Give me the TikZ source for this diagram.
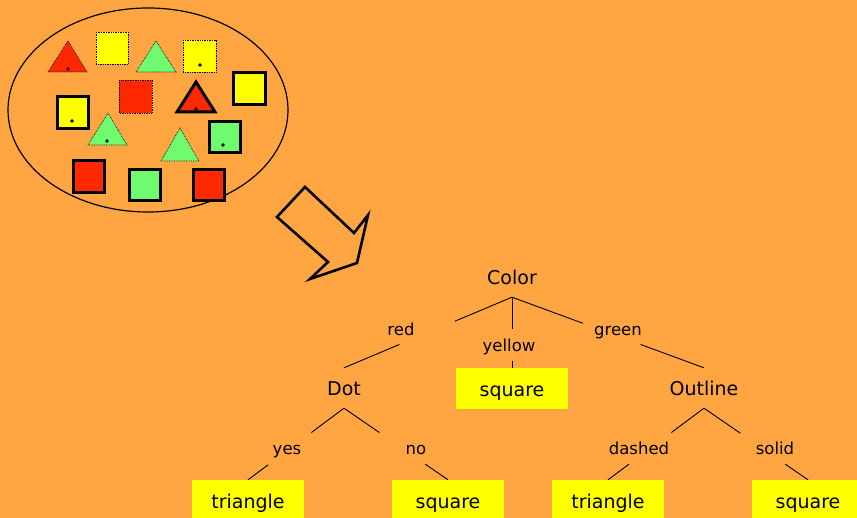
\documentclass[tikz,border=0pt]{standalone}
\usepackage{fontspec}
\setmainfont{DejaVu Sans}
\usetikzlibrary{calc}
\definecolor{bgorange}{RGB}{255,166,66}
\definecolor{shapered}{RGB}{255,40,0}
\definecolor{shapegreen}{RGB}{112,250,112}
\definecolor{shapeyellow}{RGB}{255,255,0}
\tikzset{
	treenode/.style={inner sep=0pt, minimum height=40pt, text height=19pt, text depth=3pt, font=\fontsize{19}{19}\selectfont},
	leaf/.style={treenode, fill=shapeyellow, minimum width=112pt, minimum height=41pt},
	branchlabel/.style={inner sep=1pt, text height=14pt, text depth=2pt, font=\fontsize{16.5}{16.5}\selectfont},
	dotline/.style={densely dotted, line width=0.7pt},
	thickline/.style={line width=3pt},
}
% edge broken by a gap between fractions #3 and #4
\def\branch(#1)(#2)#3#4{\draw[line width=0.9pt] (#1) -- ($(#1)!#3!(#2)$); \draw[line width=0.9pt] ($(#1)!#4!(#2)$) -- (#2);}
\def\spot(#1,#2){\fill[black] (#1,#2) circle (1.8pt);}

\begin{document}
\begin{tikzpicture}[x=1pt, y=-1pt]
			%%%%% START %%%%%
			\useasboundingbox (0,0) rectangle (857,518);
			\clip (0,0) rectangle (857,518);
			\fill[bgorange] (0,0) rectangle (857,518);
			
			% the bag of shapes
			\draw[line width=1.2pt] (148,110) ellipse [x radius=140pt, y radius=102pt];
			
			\draw[dotline, fill=shapered] (48,72) -- (68,41) -- (87,72) -- cycle;
			\spot(68,69)
			\draw[dotline, fill=shapeyellow] (96,32) rectangle (128,64);
			\draw[dotline, fill=shapegreen] (136,72) -- (156,41) -- (176,72) -- cycle;
			\draw[dotline, fill=shapeyellow] (183,40) rectangle (216,72);
			\spot(200,65)
			\draw[dotline, fill=shapered] (119,80) rectangle (152,113);
			\draw[thickline, fill=shapered, line join=miter] (177,112) -- (196,82) -- (215,112) -- cycle;
			\spot(196,109)
			\draw[thickline, fill=shapeyellow] (233,73) rectangle (265,105);
			\draw[thickline, fill=shapeyellow] (57,97) rectangle (88,129);
			\spot(72,121)
			\draw[dotline, fill=shapegreen] (88,145) -- (108,113) -- (127,145) -- cycle;
			\spot(107,141)
			\draw[dotline, fill=shapegreen] (161,161) -- (180,128) -- (199,161) -- cycle;
			\draw[thickline, fill=shapegreen] (209,122) rectangle (240,153);
			\spot(223,145)
			\draw[thickline, fill=shapered] (73,161) rectangle (104,193);
			\draw[thickline, fill=shapegreen] (129,170) rectangle (160,201);
			\draw[thickline, fill=shapered] (193,170) rectangle (224,201);
			
			% block arrow
			\draw[line width=2.6pt, line join=miter] (305,187) -- (277,217) -- (328,262) -- (310,279)
				-- (357,263) -- (368,215) -- (354,233) -- cycle;
			
			% decision tree
			\node[treenode] (color) at (512,277) {Color};
			\node[treenode] (dot) at (344,388) {Dot};
			\node[leaf] (sqyellow) at (512,388.5) {square};
			\node[treenode] (outline) at (704,388) {Outline};
			\node[leaf] (triyes) at (248,500.5) {triangle};
			\node[leaf] (sqno) at (448,500.5) {square};
			\node[leaf] (tridashed) at (608,500.5) {triangle};
			\node[leaf] (sqsolid) at (808,500.5) {square};
			
			\node[branchlabel] (red) at (401,330) {red};
			\node[branchlabel] (yellow) at (509,346) {yellow};
			\node[branchlabel] (green) at (618,330) {green};
			\node[branchlabel] (yes) at (287,449) {yes};
			\node[branchlabel] (no) at (416,449) {no};
			\node[branchlabel] (dashed) at (639,449) {dashed};
			\node[branchlabel] (solid) at (775,449) {solid};
			
			\branch(color.south)(dot.north){0.34}{0.67}
			\branch(color.south)(sqyellow.north){0.45}{0.9}
			\branch(color.south)(outline.north){0.37}{0.67}
			\branch(dot.south)(triyes.north){0.34}{0.79}
			\branch(dot.south)(sqno.north){0.34}{0.78}
			\branch(outline.south)(tridashed.north){0.34}{0.78}
			\branch(outline.south)(sqsolid.north){0.35}{0.78}
			%%%%% END %%%%%
\end{tikzpicture}
\end{document}
